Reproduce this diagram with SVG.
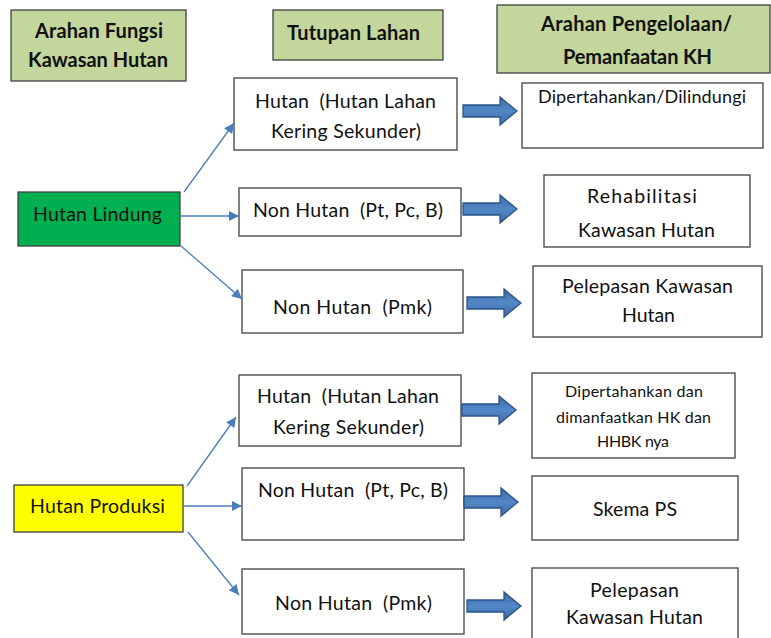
<svg xmlns="http://www.w3.org/2000/svg" width="771" height="638" viewBox="0 0 771 638" xml:space="preserve">
<style>
text{font-family:Lato,"Noto Sans","Liberation Sans",sans-serif;fill:#111;text-anchor:middle;font-size:19.5px;white-space:pre}
.b{font-weight:bold;font-size:20px}
.s{font-size:16px}
.m{font-size:18px}
.box{fill:#fff;stroke:#404040;stroke-width:1.3}
.hdr{fill:#c3d69b;stroke:#404040;stroke-width:1.3}
.con{stroke:#4a7ebb;stroke-width:1.3;fill:none;marker-end:url(#ah)}
.blk{fill:url(#bg);stroke:#2c5486;stroke-width:1.3}
</style>
<defs>
<marker id="ah" viewBox="0 0 10 10" refX="10" refY="5" markerWidth="12" markerHeight="10" markerUnits="userSpaceOnUse" orient="auto">
<path d="M0,0 L10,5 L0,10 Z" fill="#4a7ebb"/>
</marker>
<linearGradient id="bg" x1="0" y1="0" x2="0" y2="1">
<stop offset="0" stop-color="#3d6aa5"/><stop offset="0.5" stop-color="#5287c6"/><stop offset="1" stop-color="#3d6aa5"/>
</linearGradient>
<path id="blk" d="M0,-6 H37 V-14 L54,0 L37,14 V6 H0 Z"/>
</defs>
<rect width="771" height="638" fill="#fff"/>
<g id="hdr1"><rect class="hdr" x="11" y="10" width="175" height="71"/><text class="b" x="99" y="38" textLength="128">Arahan Fungsi</text><text class="b" x="98" y="67" textLength="140">Kawasan Hutan</text></g>
<g id="hdr2"><rect class="hdr" x="273" y="10" width="170" height="50"/><text class="b" x="353.5" y="40" textLength="133">Tutupan Lahan</text></g>
<g id="hdr3"><rect class="hdr" x="497" y="5" width="273" height="68"/><text class="b" x="636.5" y="31" textLength="191">Arahan Pengelolaan/</text><text class="b" x="637.5" y="64" textLength="149">Pemanfaatan KH</text></g>
<g id="hl"><rect x="18" y="192" width="162" height="54" fill="#00b050" stroke="#404040" stroke-width="1.3"/><text x="97.5" y="221" textLength="129">Hutan Lindung</text></g>
<g id="hp"><rect x="14" y="485" width="169" height="47" fill="#ffff00" stroke="#404040" stroke-width="1.3"/><text x="97.5" y="513" textLength="135">Hutan Produksi</text></g>
<g id="t1"><rect class="box" x="234" y="78" width="223" height="72"/><text x="345.5" y="108" textLength="181">Hutan  (Hutan Lahan</text><text x="346" y="138" textLength="150">Kering Sekunder)</text></g>
<g id="t2"><rect class="box" x="239" y="188" width="222" height="48"/><text x="348" y="217" textLength="190">Non Hutan  (Pt, Pc, B)</text></g>
<g id="t3"><rect class="box" x="242" y="270" width="221" height="63"/><text x="352.5" y="314" textLength="159">Non Hutan  (Pmk)</text></g>
<g id="t4"><rect class="box" x="239" y="375" width="222" height="71"/><text x="348" y="403" textLength="182">Hutan  (Hutan Lahan</text><text x="348.5" y="434" textLength="151">Kering Sekunder)</text></g>
<g id="t5"><rect class="box" x="242" y="468" width="222" height="72"/><text x="353" y="497" textLength="190">Non Hutan  (Pt, Pc, B)</text></g>
<g id="t6"><rect class="box" x="242" y="569" width="222" height="65"/><text x="353.5" y="610" textLength="157">Non Hutan  (Pmk)</text></g>
<g id="r1"><rect class="box" x="522" y="83" width="241" height="65"/><text class="m" x="642" y="103" textLength="208">Dipertahankan/Dilindungi</text></g>
<g id="r2"><rect class="box" x="544" y="175" width="206" height="72"/><text x="642" y="203" textLength="110">Rehabilitasi</text><text x="646.5" y="237" textLength="137">Kawasan Hutan</text></g>
<g id="r3"><rect class="box" x="533" y="266" width="229" height="71"/><text x="647.5" y="293" textLength="171">Pelepasan Kawasan</text><text x="648.5" y="322" textLength="53">Hutan</text></g>
<g id="r4"><rect class="box" x="532" y="373" width="203" height="85"/><text class="s" x="634" y="397" textLength="138">Dipertahankan dan</text><text class="s" x="633.5" y="423" textLength="155">dimanfaatkan HK dan</text><text class="s" x="633" y="447" textLength="72">HHBK nya</text></g>
<g id="r5"><rect class="box" x="532" y="476" width="206" height="64"/><text x="635" y="516" textLength="84">Skema PS</text></g>
<g id="r6"><rect class="box" x="532" y="568" width="206" height="80"/><text x="634.5" y="597" textLength="89">Pelepasan</text><text x="634.5" y="624" textLength="137">Kawasan Hutan</text></g>
<g id="connectors">
<line class="con" x1="184" y1="192" x2="234" y2="123"/>
<line class="con" x1="180" y1="216" x2="239" y2="216"/>
<line class="con" x1="181" y1="246" x2="242" y2="299"/>
<line class="con" x1="187" y1="486" x2="236" y2="417"/>
<line class="con" x1="183" y1="506" x2="242" y2="506"/>
<line class="con" x1="188" y1="532" x2="239" y2="595"/>
<use href="#blk" class="blk" x="463" y="111"/>
<use href="#blk" class="blk" x="463" y="209"/>
<use href="#blk" class="blk" x="467" y="303"/>
<use href="#blk" class="blk" x="462" y="410"/>
<use href="#blk" class="blk" x="464" y="502"/>
<use href="#blk" class="blk" x="467" y="606"/>
</g>
</svg>
